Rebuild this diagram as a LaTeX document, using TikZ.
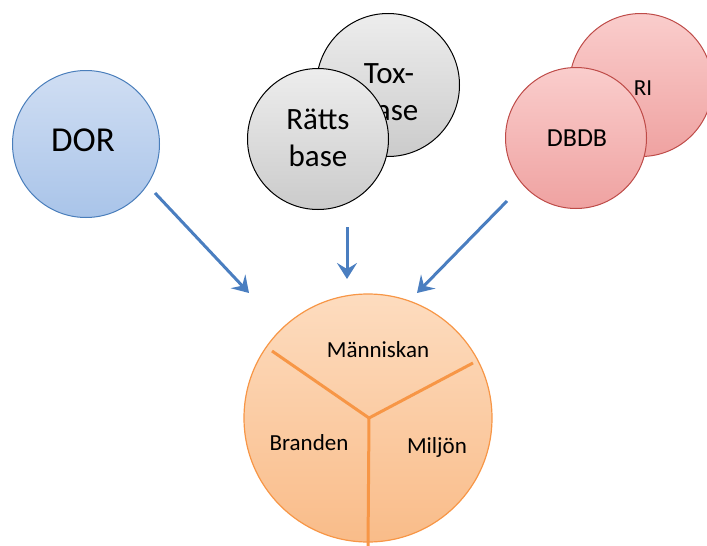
\documentclass[tikz,border=0pt]{standalone}
\usepackage{fontspec}
\setmainfont{Carlito}
\usetikzlibrary{arrows.meta}
\definecolor{bluefillA}{HTML}{D0DEF3}
\definecolor{bluefillB}{HTML}{A9C4E9}
\definecolor{blueline}{HTML}{4A7EBB}
\definecolor{arrowblue}{HTML}{4A7EC0}
\definecolor{greyA}{HTML}{EDEDED}
\definecolor{greyB}{HTML}{CBCBCB}
\definecolor{redA}{HTML}{FACDCC}
\definecolor{redB}{HTML}{EFA2A1}
\definecolor{redline}{HTML}{BE4B48}
\definecolor{orA}{HTML}{FDDCBF}
\definecolor{orB}{HTML}{F9BC89}
\definecolor{orline}{HTML}{F79646}
\tikzset{
  ball/.style={circle, inner sep=0pt, line width=1pt},
  blueball/.style={ball, draw=blueline, top color=bluefillA, bottom color=bluefillB},
  greyball/.style={ball, draw=black, top color=greyA, bottom color=greyB},
  redball/.style={ball, draw=redline, top color=redA, bottom color=redB},
  orball/.style={ball, draw=orline, line width=1.2pt, top color=orA, bottom color=orB},
  bigtxt/.style={font=\fontsize{31}{37}\selectfont, align=center, inner sep=0pt},
  midtxt/.style={font=\fontsize{23}{27}\selectfont, inner sep=0pt},
  flow/.style={draw=arrowblue, line width=3pt, -{Stealth[length=16pt, width=20pt, inset=6pt]}},
  split/.style={draw=orline, line width=3pt}
}
\begin{document}
\begin{tikzpicture}[x=1pt, y=-1pt]
\useasboundingbox (0,0) rectangle (707,546);
% DOR
\node[blueball, minimum size=147pt] (dor) at (86,144) {};
\node[font=\fontsize{35}{40}\selectfont, inner sep=0pt] (dort) at (83,140) {DOR};
% Tox / Rätts
\node[greyball, minimum size=143pt] (tox) at (388,85) {};
\node[bigtxt] (toxt) at (389,92) {Tox-\\base};
\node[greyball, minimum size=141pt] (ratts) at (318,139) {};
\node[bigtxt] (rattst) at (318,138) {Rätts\\base};
% RI / DBDB
\node[redball, minimum size=143pt] (ri) at (641,85) {};
\node[font=\fontsize{23}{27}\selectfont, inner sep=0pt] (rit) at (643,88) {RI};
\node[redball, minimum size=141pt] (dbdb) at (576,138) {};
\node[font=\fontsize{26}{30}\selectfont, inner sep=0pt] (dbdbt) at (577,138) {DBDB};
% bottom circle
\node[orball, minimum size=248pt] (core) at (368,418) {};
\coordinate (ctr) at (369,418);
\coordinate (yl) at (272,351);
\coordinate (yr) at (473,363);
\coordinate (yb) at (368,549);
\draw[split] (yl) -- (ctr) -- (yr);
\draw[split] (ctr) -- (yb);
\node[midtxt] (man) at (378,350) {Människan};
\node[midtxt] (bra) at (309,443) {Branden};
\node[midtxt] (mil) at (437,447) {Miljön};
% arrows
\coordinate (a1s) at (155,193);
\coordinate (a1e) at (249,293);
\coordinate (a2s) at (347,227);
\coordinate (a2e) at (347,279);
\coordinate (a3s) at (507,201);
\coordinate (a3e) at (417,293);
\draw[flow] (a1s) -- (a1e);
\draw[flow] (a2s) -- (a2e);
\draw[flow] (a3s) -- (a3e);
\end{tikzpicture}
\end{document}
